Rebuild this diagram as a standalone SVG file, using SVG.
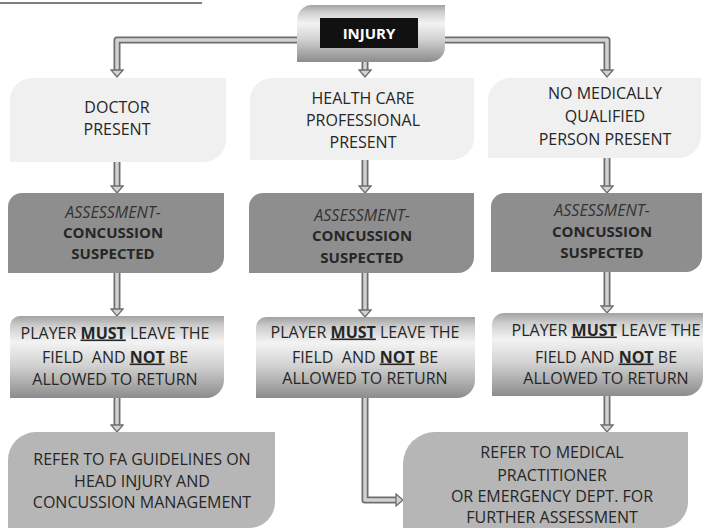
<svg xmlns="http://www.w3.org/2000/svg" width="703" height="529" viewBox="0 0 703 529">
<style>
text{font-family:"Open Sans","Liberation Sans",sans-serif;font-size:16px;fill:#262626;text-anchor:middle}
.b{font-weight:bold;font-size:15px}
.u{font-weight:bold;text-decoration:underline}
.it{font-style:italic;fill:#333}
.pre{white-space:pre}
.r1{fill:#f0f0f0}
.r2{fill:#8e8e8e}
.r3{fill:url(#metal)}
.r4{fill:#b6b6b6}
.co{fill:none;stroke:#6e6e6e;stroke-width:7;stroke-linejoin:round}
.ci{fill:none;stroke:#d2d2d2;stroke-width:3.5;stroke-linejoin:round;marker-end:url(#ah)}
</style>
<defs>
<linearGradient id="metal" x1="0" y1="0" x2="0" y2="1">
<stop offset="0" stop-color="#a2a2a2"/>
<stop offset="0.12" stop-color="#cdcdcd"/>
<stop offset="0.32" stop-color="#f3f3f3"/>
<stop offset="0.6" stop-color="#d2d2d2"/>
<stop offset="1" stop-color="#8c8c8c"/>
</linearGradient>
<marker id="ah" markerUnits="userSpaceOnUse" viewBox="0 0 9 14" markerWidth="9" markerHeight="14" refX="1" refY="7" orient="auto">
<polygon points="1,1 8,7 1,13" fill="#d2d2d2" stroke="#6e6e6e" stroke-width="1.3"/>
</marker>
</defs>
<rect width="703" height="529" fill="#ffffff"/>
<line x1="0" y1="3" x2="202" y2="3" stroke="#555" stroke-width="1.3"/>

<g id="connectors">
<path class="co" d="M297,40 H117 V70"/>
<path class="ci" d="M297,40 H117 V70"/>
<path class="co" d="M445,40 H607 V70"/>
<path class="ci" d="M445,40 H607 V70"/>
<path class="co" d="M365,62 V70"/>
<path class="ci" d="M365,62 V70"/>
<path class="co" d="M117,162 V186"/>
<path class="ci" d="M117,162 V186"/>
<path class="co" d="M365,160 V186"/>
<path class="ci" d="M365,160 V186"/>
<path class="co" d="M607,158 V186"/>
<path class="ci" d="M607,158 V186"/>
<path class="co" d="M117,273 V309"/>
<path class="ci" d="M117,273 V309"/>
<path class="co" d="M365,273 V310"/>
<path class="ci" d="M365,273 V310"/>
<path class="co" d="M607,272 V306"/>
<path class="ci" d="M607,272 V306"/>
<path class="co" d="M117,398 V425"/>
<path class="ci" d="M117,398 V425"/>
<path class="co" d="M607,396 V425"/>
<path class="ci" d="M607,396 V425"/>
<path class="co" d="M365,398 V500 H396"/>
<path class="ci" d="M365,398 V500 H396"/>
</g>

<g id="injury">
<path class="r3" d="M312,5 H445 V47 A15,15 0 0 1 430,62 H297 V20 A15,15 0 0 1 312,5 Z"/>
<rect x="320" y="18" width="98" height="30" fill="#111"/>
<text x="369" y="38.5" class="b" style="fill:#fff">INJURY</text>
</g>

<g id="doctor">
<path class="r1" d="M32,78 H226 V140 A22,22 0 0 1 204,162 H10 V100 A22,22 0 0 1 32,78 Z"/>
<text x="117" y="112.5">DOCTOR</text>
<text x="117" y="134.5">PRESENT</text>
</g>
<g id="hcp">
<path class="r1" d="M272,78 H474 V138 A22,22 0 0 1 452,160 H250 V100 A22,22 0 0 1 272,78 Z"/>
<text x="363" y="103.5">HEALTH CARE</text>
<text x="363" y="125.5">PROFESSIONAL</text>
<text x="363" y="147.5">PRESENT</text>
</g>
<g id="nomed">
<path class="r1" d="M510,78 H701 V136 A22,22 0 0 1 679,158 H488 V100 A22,22 0 0 1 510,78 Z"/>
<text x="605" y="98.5">NO MEDICALLY</text>
<text x="605" y="121.5">QUALIFIED</text>
<text x="605" y="144.5">PERSON PRESENT</text>
</g>

<g id="assess1">
<path class="r2" d="M22,193 H224 V257 A16,16 0 0 1 208,273 H8 V207 A14,14 0 0 1 22,193 Z"/>
<text x="113" y="217.5" class="it">ASSESSMENT-</text>
<text x="113" y="237.5" class="b">CONCUSSION</text>
<text x="113" y="258.5" class="b">SUSPECTED</text>
</g>
<g id="assess2">
<path class="r2" d="M263,193 H474 V257 A16,16 0 0 1 458,273 H249 V207 A14,14 0 0 1 263,193 Z"/>
<text x="362" y="220.5" class="it">ASSESSMENT-</text>
<text x="362" y="240.5" class="b">CONCUSSION</text>
<text x="362" y="262.5" class="b">SUSPECTED</text>
</g>
<g id="assess3">
<path class="r2" d="M505,193 H702 V256 A16,16 0 0 1 686,272 H491 V207 A14,14 0 0 1 505,193 Z"/>
<text x="602" y="215.5" class="it">ASSESSMENT-</text>
<text x="602" y="236.5" class="b">CONCUSSION</text>
<text x="602" y="257.5" class="b">SUSPECTED</text>
</g>

<g id="leave1">
<path class="r3" d="M20,316 H224 V380 A18,18 0 0 1 206,398 H10 V326 A10,10 0 0 1 20,316 Z"/>
<text x="115" y="338.5">PLAYER <tspan class="u">MUST</tspan> LEAVE THE</text>
<text x="115" y="362.5" class="pre">FIELD  AND <tspan class="u">NOT</tspan> BE</text>
<text x="115" y="384.5">ALLOWED TO RETURN</text>
</g>
<g id="leave2">
<path class="r3" d="M266,317 H475 V380 A18,18 0 0 1 457,398 H256 V327 A10,10 0 0 1 266,317 Z"/>
<text x="365" y="337.5">PLAYER <tspan class="u">MUST</tspan> LEAVE THE</text>
<text x="365" y="362.5" class="pre">FIELD  AND <tspan class="u">NOT</tspan> BE</text>
<text x="365" y="383.5">ALLOWED TO RETURN</text>
</g>
<g id="leave3">
<path class="r3" d="M504,313 H703 V378 A18,18 0 0 1 685,396 H492 V325 A12,12 0 0 1 504,313 Z"/>
<text x="606" y="335.5">PLAYER <tspan class="u">MUST</tspan> LEAVE THE</text>
<text x="606" y="362.5">FIELD AND <tspan class="u">NOT</tspan> BE</text>
<text x="606" y="383.5">ALLOWED TO RETURN</text>
</g>

<g id="refer-fa">
<path class="r4" d="M36,432 H275 V502 A26,26 0 0 1 249,528 H8 V460 A28,28 0 0 1 36,432 Z"/>
<text x="142" y="464.5">REFER TO FA GUIDELINES ON</text>
<text x="142" y="486.5">HEAD INJURY AND</text>
<text x="142" y="507.5">CONCUSSION MANAGEMENT</text>
</g>
<g id="refer-med">
<path class="r4" d="M435,432 H688 V502 A26,26 0 0 1 662,528 H403 V464 A32,32 0 0 1 435,432 Z"/>
<text x="552" y="457.5">REFER TO MEDICAL</text>
<text x="552" y="480.5">PRACTITIONER</text>
<text x="552" y="501.5">OR EMERGENCY DEPT. FOR</text>
<text x="552" y="522.5">FURTHER ASSESSMENT</text>
</g>
</svg>
